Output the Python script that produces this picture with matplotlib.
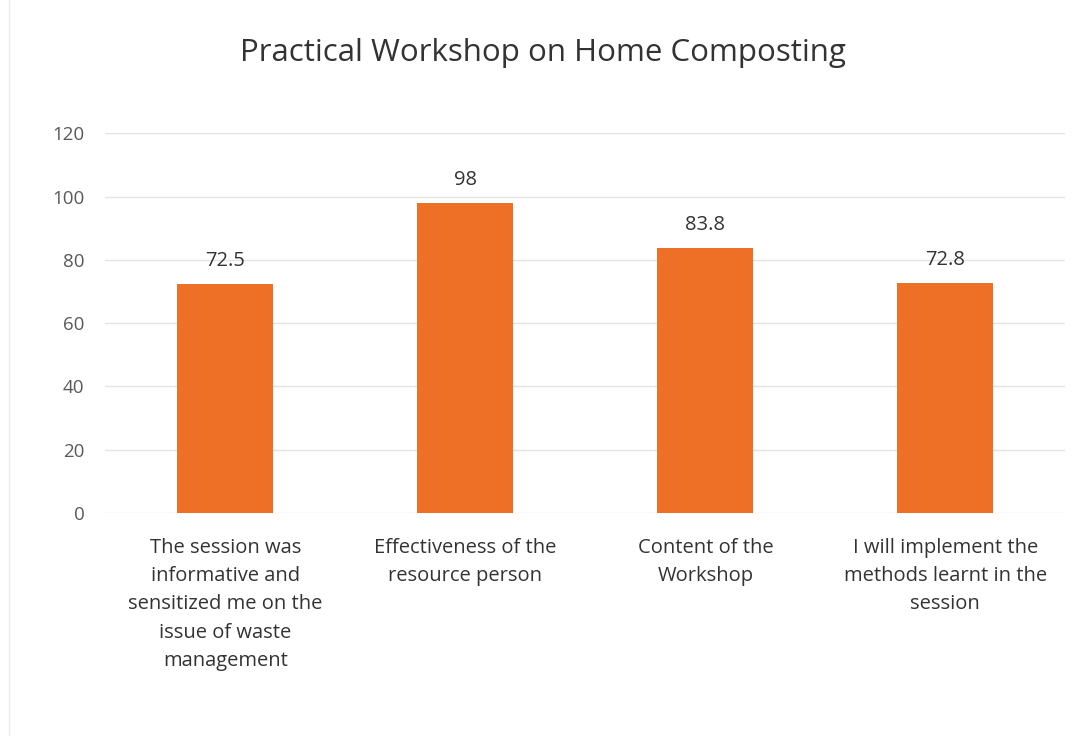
import matplotlib
matplotlib.use("Agg")
from matplotlib import pyplot as plt
import numpy as np

plt.rcParams['font.family'] = ['Open Sans', 'DejaVu Sans']

# data
categories = [
    "The session was\ninformative and\nsensitized me on the\nissue of waste\nmanagement",
    "Effectiveness of the\nresource person",
    "Content of the\nWorkshop",
    "I will implement the\nmethods learnt in the\nsession",
]
values = [72.5, 98, 83.8, 72.8]
value_labels = ["72.5", "98", "83.8", "72.8"]
y_ticks = [0, 20, 40, 60, 80, 100, 120]

fig = plt.figure(figsize=(10.76, 7.36), dpi=100)
ax = fig.add_axes([0.098, 0.303, 0.892, 0.516])

x = np.arange(len(categories))
bars = ax.bar(x, values, width=0.4, color='#ED7026', zorder=3)

for b, lab in zip(bars, value_labels):
    ax.text(b.get_x() + b.get_width() / 2, b.get_height() + 4, lab,
            ha='center', va='bottom', fontsize=14.5, color='#333333')

ax.set_xlim(-0.5, len(categories) - 0.5)
ax.set_ylim(0, 120)
ax.set_yticks(y_ticks)
ax.set_yticklabels([str(t) for t in y_ticks], fontsize=13.5, color='#595959')
ax.grid(axis='y', color='#E3E3E3', linewidth=1, zorder=0)
ax.set_xticks(x)
ax.set_xticklabels(categories, fontsize=14.5, color='#333333', linespacing=1.55, va='top')
ax.tick_params(axis='both', length=0)
ax.tick_params(axis='x', pad=18)
ax.tick_params(axis='y', pad=15)
for s in ax.spines.values():
    s.set_visible(False)

fig.text(0.505, 0.928, "Practical Workshop on Home Composting", ha='center', va='center',
         fontsize=22.5, color='#333333')

# faint chart frame on the left
fig.add_artist(plt.Line2D([0.008, 0.008], [0.0, 1.0], color='#EBEBEB', linewidth=1))

fig.savefig("out.png", dpi=100)
